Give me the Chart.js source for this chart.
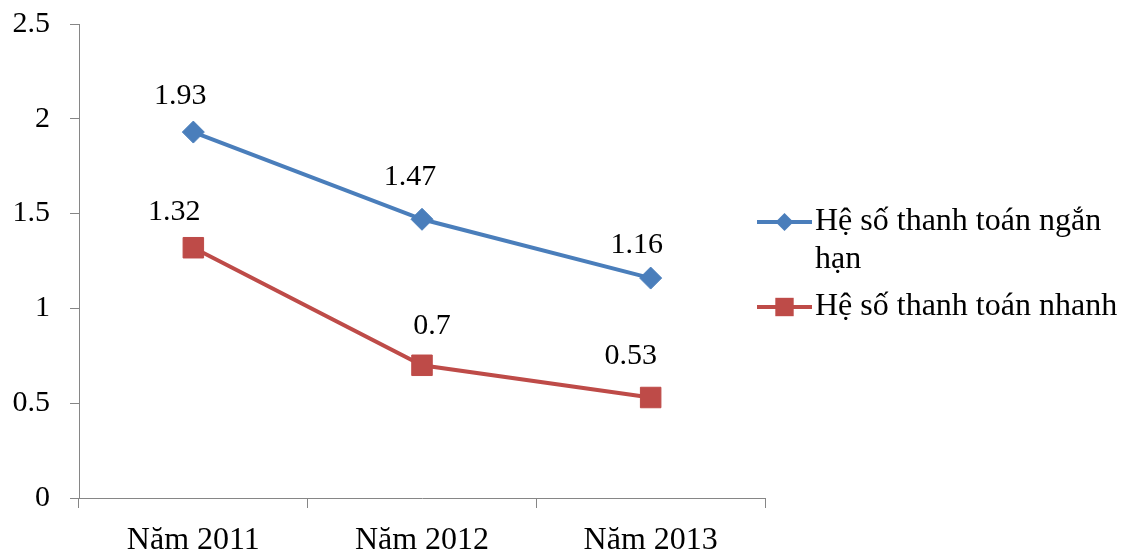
<!DOCTYPE html>
<html>
<head>
<meta charset="utf-8">
<script src="https://cdn.jsdelivr.net/npm/chart.js@4.4.1/dist/chart.umd.min.js"></script>
<style>
  html, body { margin: 0; padding: 0; background: #ffffff; }
  #wrap { width: 1131px; height: 551px; position: relative; }
</style>
</head>
<body>
<div id="wrap"><canvas id="c"></canvas></div>
<script>
// Categories and series values
const years = ['Năm 2011', 'Năm 2012', 'Năm 2013'];
const heSoNganHan = [1.93, 1.47, 1.16];
const heSoNhanh = [1.32, 0.7, 0.53];
const seriesNames = ['Hệ số thanh toán ngắn hạn', 'Hệ số thanh toán nhanh'];
const yTickValues = [0, 0.5, 1, 1.5, 2, 2.5];

const FONT = "'Liberation Serif', 'Times New Roman', serif";
const BLUE = '#4A7EBB';
const RED = '#BE4B48';

// Value labels drawn above each point
const valueLabels = {
  id: 'valueLabels',
  afterDatasetsDraw(chart, args, opts) {
    const ctx = chart.ctx;
    ctx.save();
    ctx.font = opts.size + 'px ' + FONT;
    ctx.fillStyle = '#000';
    ctx.textAlign = 'center';
    ctx.textBaseline = 'middle';
    chart.data.datasets.forEach((ds, di) => {
      const meta = chart.getDatasetMeta(di);
      meta.data.forEach((pt, i) => {
        const nudge = (opts.nudges[di] || [])[i] || [0, -36];
        ctx.fillText(String(ds.data[i]), pt.x + nudge[0], pt.y + nudge[1]);
      });
    });
    ctx.restore();
  }
};

function drawMarker(ctx, style, x, y, r, color) {
  ctx.fillStyle = color;
  ctx.beginPath();
  if (style === 'rectRot') {
    ctx.moveTo(x - r, y);
    ctx.lineTo(x, y - r);
    ctx.lineTo(x + r, y);
    ctx.lineTo(x, y + r);
  } else {
    const s = r * Math.SQRT1_2;
    ctx.rect(x - s, y - s, 2 * s, 2 * s);
  }
  ctx.closePath();
  ctx.fill();
}

// Legend on the right, with word wrapping
const sideLegend = {
  id: 'sideLegend',
  afterDraw(chart, args, opts) {
    const ctx = chart.ctx;
    ctx.save();
    ctx.font = opts.size + 'px ' + FONT;
    ctx.textBaseline = 'middle';
    ctx.textAlign = 'left';
    const maxW = chart.width - opts.textX - 4;
    let y = opts.top;
    chart.data.datasets.forEach(ds => {
      const words = ds.label.split(' ');
      const lines = [];
      let cur = '';
      words.forEach(w => {
        const t = cur ? cur + ' ' + w : w;
        if (ctx.measureText(t).width > maxW && cur) { lines.push(cur); cur = w; }
        else cur = t;
      });
      if (cur) lines.push(cur);

      ctx.strokeStyle = ds.borderColor;
      ctx.lineWidth = ds.borderWidth;
      ctx.beginPath();
      ctx.moveTo(opts.lineX0, y);
      ctx.lineTo(opts.lineX1, y);
      ctx.stroke();
      drawMarker(ctx, ds.pointStyle, (opts.lineX0 + opts.lineX1) / 2, y,
        ds.pointStyle === 'rectRot' ? opts.diamondR : opts.squareR, ds.pointBackgroundColor);

      ctx.fillStyle = '#000';
      lines.forEach((ln, k) => ctx.fillText(ln, opts.textX, y + k * opts.lineHeight));
      y += lines.length * opts.lineHeight + opts.gap;
    });
    ctx.restore();
  }
};

new Chart(document.getElementById('c'), {
  type: 'line',
  data: {
    labels: years,
    datasets: [
      {
        label: seriesNames[0],
        data: heSoNganHan,
        borderColor: BLUE,
        backgroundColor: BLUE,
        pointBackgroundColor: BLUE,
        pointBorderColor: BLUE,
        borderWidth: 4,
        pointStyle: 'rectRot',
        pointRadius: 11,
        pointHoverRadius: 11,
        pointBorderWidth: 1,
        tension: 0
      },
      {
        label: seriesNames[1],
        data: heSoNhanh,
        borderColor: RED,
        backgroundColor: RED,
        pointBackgroundColor: RED,
        pointBorderColor: RED,
        borderWidth: 4,
        pointStyle: 'rect',
        pointRadius: 14.5,
        pointHoverRadius: 14.5,
        pointBorderWidth: 1,
        tension: 0
      }
    ]
  },
  options: {
    responsive: true,
    maintainAspectRatio: false,
    animation: false,
    events: [],
    layout: { padding: { left: 0, top: 24, right: 366, bottom: 0 } },
    plugins: {
      legend: { display: false },
      tooltip: { enabled: false },
      valueLabels: {
        size: 30,
        nudges: [
          [[-13, -36], [-12, -42], [-14, -33]],
          [[-19, -36], [10, -39], [-20, -41]]
        ]
      },
      sideLegend: {
        size: 32,
        top: 222,
        lineX0: 757,
        lineX1: 812,
        textX: 815,
        lineHeight: 38,
        gap: 9,
        diamondR: 9,
        squareR: 13
      }
    },
    scales: {
      x: {
        offset: true,
        afterFit(scale) {
          scale.height = 53;
          scale.paddingLeft = 0;
          scale.paddingRight = 0;
        },
        grid: {
          offset: true,
          drawOnChartArea: false,
          drawTicks: true,
          tickLength: 10,
          color: '#868686',
          lineWidth: 1
        },
        border: { display: true, color: '#868686', width: 1 },
        ticks: {
          color: '#000',
          font: { family: FONT, size: 32 },
          padding: 13,
          maxRotation: 0,
          autoSkip: false
        }
      },
      y: {
        min: yTickValues[0],
        max: yTickValues[yTickValues.length - 1],
        afterFit(scale) {
          scale.width = 79;
          scale.paddingTop = 0;
          scale.paddingBottom = 0;
        },
        afterBuildTicks(scale) { scale.ticks = yTickValues.map(v => ({ value: v })); },
        grid: {
          drawOnChartArea: false,
          drawTicks: true,
          tickLength: 9,
          color: '#868686',
          lineWidth: 1
        },
        border: { display: true, color: '#868686', width: 1 },
        ticks: {
          color: '#000',
          font: { family: FONT, size: 30 },
          padding: 20,
          callback: v => String(v)
        }
      }
    }
  },
  plugins: [valueLabels, sideLegend]
});
</script>
</body>
</html>
